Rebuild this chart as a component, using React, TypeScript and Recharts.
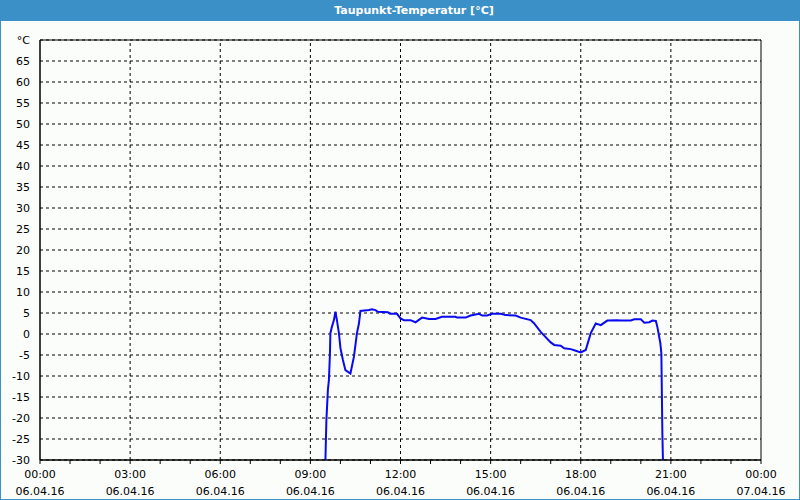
import {
  LineChart, Line, XAxis, YAxis, CartesianGrid, ReferenceLine, ReferenceArea,
} from "recharts";

// minutes since 06.04.16 00:00
const minutes = [
  568, 572, 575, 577, 579, 580, 583, 587, 590, 593, 597, 600, 605, 610, 620,
  627, 633, 637, 640, 657, 663, 670, 675, 695, 699, 713, 720, 727, 740, 750,
  763, 777, 790, 803, 830, 833, 850, 860, 877, 883, 893, 903, 920, 930, 950,
  960, 980, 987, 1000, 1020, 1027, 1040, 1047, 1060, 1070, 1080, 1090, 1100,
  1110, 1120, 1133, 1153, 1160, 1180, 1187, 1200, 1207, 1217, 1223, 1230,
  1233, 1239, 1241, 1243, 1246,
];
const dewPoint = [
  -40, -20.5, -13.3, -11, -5, 0.2, 1.7, 3.3, 5.3, 3.3, 0.2, -3.3, -6.2, -8.6,
  -9.4, -5.4, 0.2, 2.5, 5.5, 5.7, 5.9, 5.7, 5.3, 5.2, 4.8, 4.8, 3.7, 3.3, 3.3,
  2.8, 3.9, 3.6, 3.6, 4.1, 4.1, 3.9, 3.9, 4.4, 4.8, 4.4, 4.4, 4.8, 4.8, 4.5,
  4.4, 3.9, 3.3, 2.5, 0.5, -2.0, -2.6, -2.8, -3.4, -3.6, -4.0, -4.4, -3.8, 0.2,
  2.5, 2.1, 3.2, 3.3, 3.2, 3.2, 3.5, 3.5, 2.7, 2.8, 3.2, 3.1, 1.7, -2.2, -4.6,
  -23.6, -40,
];
const yTicks = [-30, -25, -20, -15, -10, -5, 0, 5, 10, 15, 20, 25, 30, 35, 40, 45, 50, 55, 60, 65, 70];
const hourTicks = Array.from({ length: 25 }, (_, i) => i * 60);
const gridHours = [180, 360, 540, 720, 900, 1080, 1260];
const dateLabels = ["06.04.16", "07.04.16"];

const data = minutes.map((m, i) => ({ t: m, v: dewPoint[i] }));

const FONT = "'DejaVu Sans', Verdana, sans-serif";

function pad(n: number) {
  return n < 10 ? "0" + n : "" + n;
}

function TimeTick(props: any) {
  const { x, y, payload } = props;
  const m = payload.value;
  if (m % 180 !== 0) return null;
  const hh = pad(Math.floor(m / 60) % 24);
  const date = m >= 1440 ? dateLabels[1] : dateLabels[0];
  return (
    <g>
      <text x={x} y={y + 12} textAnchor="middle" fontSize={11} fill="#000" fontFamily={FONT}>
        {hh}:00
      </text>
      <text x={x} y={y + 29} textAnchor="middle" fontSize={11} fill="#000" fontFamily={FONT}>
        {date}
      </text>
    </g>
  );
}

export default function App() {
  return (
    <div
      style={{
        position: "fixed", left: 0, top: 0, width: 800, height: 500,
        boxSizing: "border-box", background: "#FBFDFB",
        border: "1px solid #3C90C8", borderTop: "none",
      }}
    >
      <div
        style={{
          height: 21, background: "#3C90C8", color: "#fff",
          fontFamily: FONT, fontSize: 11, fontWeight: "bold",
          textAlign: "center", lineHeight: "21px", paddingLeft: 28,
        }}
      >
        Taupunkt-Temperatur [°C]
      </div>
      <LineChart
        width={798}
        height={478}
        data={data}
        margin={{ top: 19, right: 38, bottom: 0, left: 0 }}
      >
        <CartesianGrid vertical={false} stroke="#000" strokeDasharray="3 3" />
        {gridHours.map((h) => (
          <ReferenceLine key={h} x={h} stroke="#000" strokeDasharray="3 3" />
        ))}
        <ReferenceArea x1={0} x2={1440} y1={-30} y2={70} fill="none" stroke="#000" strokeWidth={1} />
        <XAxis
          dataKey="t"
          type="number"
          domain={[0, 1440]}
          ticks={hourTicks}
          interval={0}
          allowDataOverflow
          height={39}
          tickSize={4}
          axisLine={{ stroke: "#000" }}
          tickLine={{ stroke: "#000" }}
          tick={<TimeTick />}
        />
        <YAxis
          type="number"
          domain={[-30, 70]}
          ticks={yTicks}
          interval={0}
          allowDataOverflow
          width={39}
          tickLine={false}
          tickMargin={4}
          axisLine={{ stroke: "#000" }}
          tick={{ fontSize: 11, fill: "#000", fontFamily: FONT }}
          tickFormatter={(v: number) => (v === 70 ? "°C" : String(v))}
        />
        <Line
          type="linear"
          dataKey="v"
          stroke="#0A0AF0"
          strokeWidth={2}
          dot={false}
          isAnimationActive={false}
        />
      </LineChart>
    </div>
  );
}
